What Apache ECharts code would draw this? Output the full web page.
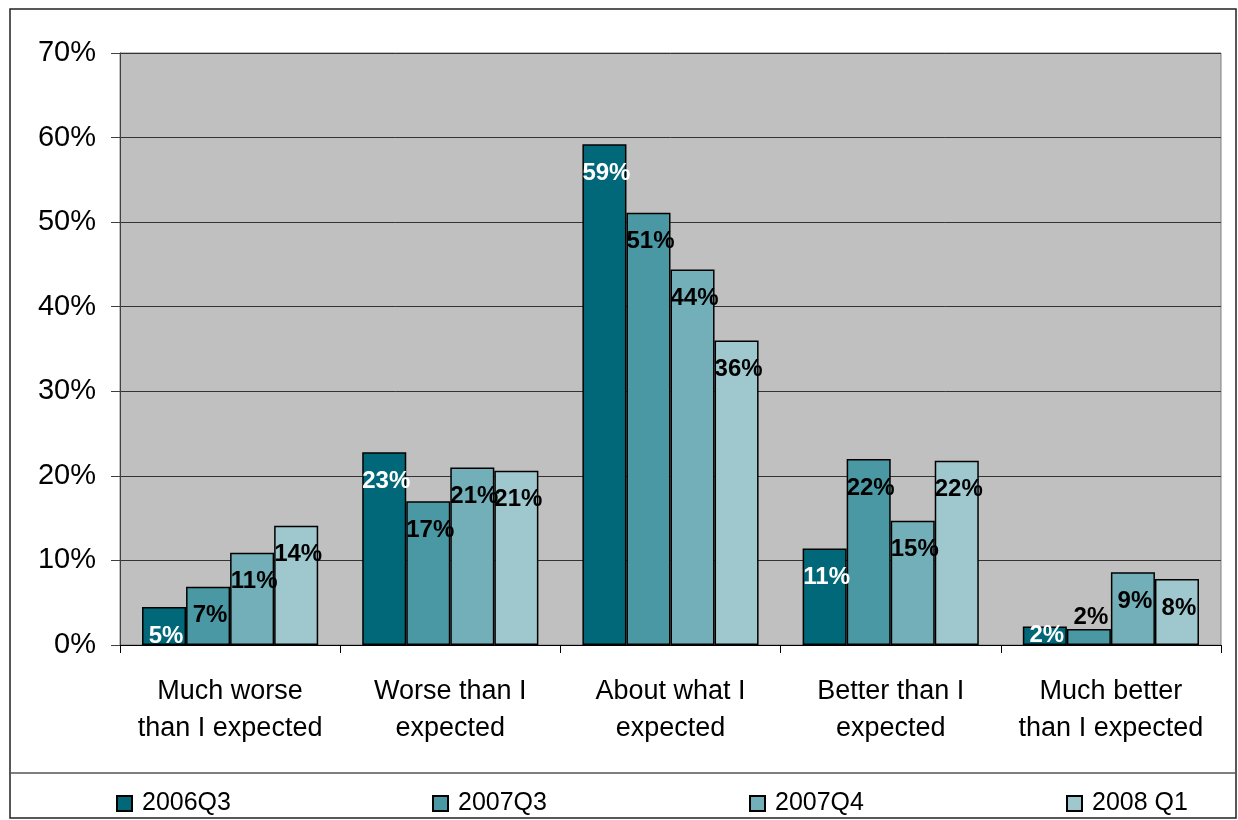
<!DOCTYPE html>
<html>
<head>
<meta charset="utf-8">
<script src="https://cdn.jsdelivr.net/npm/echarts@6/dist/echarts.min.js"></script>
<style>
  html, body { margin: 0; padding: 0; background: #fff; }
  #chart { width: 1238px; height: 820px; }
</style>
</head>
<body>
<div id="chart"></div>
<script>
// categories and values (percent)
const categories = [
  'Much worse\nthan I expected',
  'Worse than I\nexpected',
  'About what I\nexpected',
  'Better than I\nexpected',
  'Much better\nthan I expected'
]
const seriesNames = ['2006Q3', '2007Q3', '2007Q4', '2008 Q1']
const v2006Q3 = [4.5, 22.8, 59.2, 11.4, 2.2]
const v2007Q3 = [6.9, 17.0, 51.1, 22.0, 1.9]
const v2007Q4 = [10.9, 21.0, 44.4, 14.7, 8.6]
const v2008Q1 = [14.1, 20.6, 36.0, 21.8, 7.8]
const yMin = 0, yMax = 70, yStep = 10

const colors = ['#006878', '#4a98a3', '#73afb9', '#9fc8ce']
const labelColors = ['#fff', '#000', '#000', '#000']
const font = 'Arial, "Liberation Sans", sans-serif'

const myChart = echarts.init(document.getElementById('chart'))

function makeData(values, idx) {
  // short bars: label centred in the bar (first series) or sitting just above it
  return values.map(v => {
    if (v < 3) {
      return {
        value: v,
        label: idx === 0 ? { position: 'inside', offset: [2, 0] } : { position: 'top', distance: 0 }
      }
    }
    return v
  })
}

const allValues = [v2006Q3, v2007Q3, v2007Q4, v2008Q1]

const series = allValues.map((vals, i) => ({
  name: seriesNames[i],
  type: 'bar',
  barGap: '0%',
  barCategoryGap: '20%',
  data: makeData(vals, i),
  itemStyle: {
    color: colors[i],
    borderColor: '#000',
    borderWidth: 1.5
  },
  label: {
    show: true,
    position: 'insideTop',
    distance: 17,
    offset: [2, 0],
    color: labelColors[i],
    fontFamily: font,
    fontWeight: 'bold',
    fontSize: 24,
    formatter: p => Math.round(p.value) + '%'
  },
  emphasis: { disabled: true }
}))

const legendLefts = [111, 427, 744, 1061]
const legends = seriesNames.map((n, i) => ({
  data: [n],
  left: legendLefts[i],
  top: 786,
  icon: 'rect',
  itemWidth: 15,
  itemHeight: 15,
  selectedMode: false,
  textStyle: {
    fontFamily: font,
    fontSize: 25,
    color: '#000',
    padding: [0, 0, 0, 5]
  }
}))

var option = {
  backgroundColor: '#fff',
  animation: false,
  color: colors,
  grid: {
    left: 120,
    right: 17,
    top: 53,
    bottom: 175,
    show: true,
    backgroundColor: '#c0c0c0',
    borderColor: '#808080',
    borderWidth: 1
  },
  legend: legends,
  xAxis: {
    type: 'category',
    data: categories,
    axisLine: { lineStyle: { color: '#000', width: 1 } },
    axisTick: { show: true, length: 8, lineStyle: { color: '#000' } },
    axisLabel: {
      interval: 0,
      margin: 28,
      fontFamily: font,
      fontSize: 27,
      lineHeight: 37,
      color: '#000'
    }
  },
  yAxis: {
    type: 'value',
    min: yMin,
    max: yMax,
    interval: yStep,
    axisLine: { show: true, lineStyle: { color: '#404040', width: 1 } },
    axisTick: { show: true, length: 9, lineStyle: { color: '#404040' } },
    axisLabel: {
      margin: 24,
      fontFamily: font,
      fontSize: 29,
      color: '#000',
      formatter: '{value}%'
    },
    splitLine: {
      show: true,
      lineStyle: { color: '#333', width: 1 }
    }
  },
  graphic: [
    {
      type: 'rect',
      shape: { x: 10, y: 9, width: 1226, height: 809 },
      style: { fill: 'none', stroke: '#222', lineWidth: 1.5 },
      silent: true
    },
    {
      type: 'line',
      shape: { x1: 10, y1: 773, x2: 1236, y2: 773 },
      style: { stroke: '#555', lineWidth: 1.5 },
      silent: true
    }
  ],
  series: series
}

option && myChart.setOption(option)
</script>
</body>
</html>
